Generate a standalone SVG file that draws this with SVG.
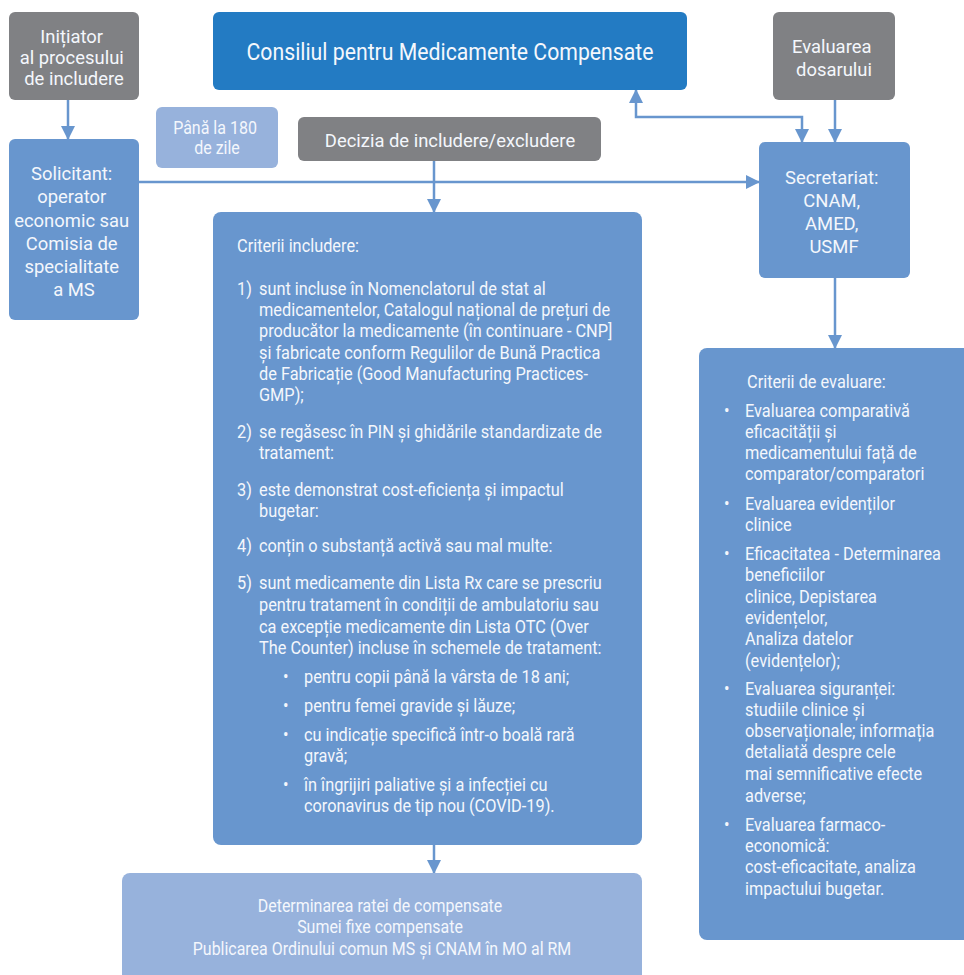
<svg xmlns="http://www.w3.org/2000/svg" width="964" height="975" viewBox="0 0 964 975">
  <style>
    .gray { fill: #808184; }
    .blue { fill: #6896ce; }
    .dark { fill: #237bc3; }
    .light { fill: #97b2dc; }
    text { font-family: Roboto, "Liberation Sans", sans-serif; fill: #f4f7fc; }
    .c { text-anchor: middle; }
    .body { font-size: 19px; }
    .small { font-size: 18px; }
    .box { font-size: 19px; }
    .title { font-size: 24.7px; }
    .conn { fill: none; stroke: #6896ce; stroke-width: 2.5; }
  </style>
  <defs>
    <marker id="arrow" markerUnits="userSpaceOnUse" markerWidth="14" markerHeight="14" viewBox="0 0 14 14" refX="13" refY="7" orient="auto-start-reverse">
      <path d="M0,0 L14,7 L0,14 Z" fill="#6896ce"/>
    </marker>
  </defs>

  <!-- connectors -->
  <g id="connectors">
    <path class="conn" d="M68,100 V139" marker-end="url(#arrow)"/>
    <path class="conn" d="M139,182 H759" marker-end="url(#arrow)"/>
    <path class="conn" d="M434,161 V212" marker-end="url(#arrow)"/>
    <path class="conn" d="M636,90 V117 H802 V142" marker-start="url(#arrow)" marker-end="url(#arrow)"/>
    <path class="conn" d="M835,100 V142" marker-end="url(#arrow)"/>
    <path class="conn" d="M835,278 V348" marker-end="url(#arrow)"/>
    <path class="conn" d="M434,845 V873" marker-end="url(#arrow)"/>
  </g>

  <g id="initiator">
    <rect class="gray" x="9" y="12" width="130" height="88" rx="6"/>
    <text class="c box" transform="translate(74,0) scale(0.97,1)">
      <tspan x="0" y="43">Inițiator</tspan>
      <tspan x="0" y="64">al procesului</tspan>
      <tspan x="0" y="85">de includere</tspan>
    </text>
  </g>

  <g id="solicitant">
    <rect class="blue" x="9" y="139" width="130" height="181" rx="6"/>
    <text class="c box" transform="translate(74,0) scale(0.97,1)">
      <tspan x="0" y="180">Solicitant:</tspan>
      <tspan x="0" y="203">operator</tspan>
      <tspan x="0" y="227">economic sau</tspan>
      <tspan x="0" y="250">Comisia de</tspan>
      <tspan x="0" y="273">specialitate</tspan>
      <tspan x="0" y="296">a MS</tspan>
    </text>
  </g>

  <g id="termen">
    <rect class="light" x="156" y="107" width="122" height="61" rx="6"/>
    <text class="c small" transform="translate(217,0) scale(0.89,1)">
      <tspan x="0" y="134">Până la 180</tspan>
      <tspan x="0" y="154">de zile</tspan>
    </text>
  </g>

  <g id="consiliul">
    <rect class="dark" x="213" y="12" width="474" height="78" rx="6"/>
    <text class="c title" transform="translate(450,0) scale(0.86,1)" y="60">Consiliul pentru Medicamente Compensate</text>
  </g>

  <g id="decizia">
    <rect class="gray" x="298" y="117" width="303" height="44" rx="6"/>
    <text class="c box" transform="translate(450,0) scale(0.97,1)" y="147">Decizia de includere/excludere</text>
  </g>

  <g id="evaluarea">
    <rect class="gray" x="773" y="12" width="122" height="88" rx="6"/>
    <text class="c box" transform="translate(834,0) scale(0.97,1)">
      <tspan x="0" y="53">Evaluarea</tspan>
      <tspan x="0" y="76">dosarului</tspan>
    </text>
  </g>

  <g id="secretariat">
    <rect class="blue" x="759" y="142" width="151" height="136" rx="6"/>
    <text class="c box" transform="translate(834,0) scale(0.97,1)">
      <tspan x="0" y="184">Secretariat:</tspan>
      <tspan x="0" y="207">CNAM,</tspan>
      <tspan x="0" y="230">AMED,</tspan>
      <tspan x="0" y="253">USMF</tspan>
    </text>
  </g>

  <g id="criterii-includere">
    <rect class="blue" x="213" y="212" width="429" height="633" rx="8"/>
    <g class="body">
      <text transform="translate(237,0) scale(0.86,1)">
        <tspan x="0" y="252">Criterii includere:</tspan>
        <tspan x="0" y="295">1)</tspan>
        <tspan x="0" y="438">2)</tspan>
        <tspan x="0" y="496">3)</tspan>
        <tspan x="0" y="552">4)</tspan>
        <tspan x="0" y="589">5)</tspan>
      </text>
      <text transform="translate(259,0) scale(0.86,1)">
        <tspan x="0" y="295">sunt incluse în Nomenclatorul de stat al</tspan>
        <tspan x="0" y="316">medicamentelor, Catalogul național de prețuri de</tspan>
        <tspan x="0" y="337">producător la medicamente (în continuare - CNP]</tspan>
        <tspan x="0" y="359">și fabricate conform Regulilor de Bună Practica</tspan>
        <tspan x="0" y="380">de Fabricație (Good Manufacturing Practices-</tspan>
        <tspan x="0" y="401">GMP);</tspan>
        <tspan x="0" y="438">se regăsesc în PIN și ghidările standardizate de</tspan>
        <tspan x="0" y="459">tratament:</tspan>
        <tspan x="0" y="496">este demonstrat cost-eficiența și impactul</tspan>
        <tspan x="0" y="517">bugetar:</tspan>
        <tspan x="0" y="552">conțin o substanță activă sau mal multe:</tspan>
        <tspan x="0" y="589">sunt medicamente din Lista Rx care se prescriu</tspan>
        <tspan x="0" y="611">pentru tratament în condiții de ambulatoriu sau</tspan>
        <tspan x="0" y="633">ca excepție medicamente din Lista OTC (Over</tspan>
        <tspan x="0" y="654">The Counter) incluse în schemele de tratament:</tspan>
      </text>
      <text transform="translate(283,0) scale(0.86,1)">
        <tspan x="0" y="683">•</tspan>
        <tspan x="0" y="712">•</tspan>
        <tspan x="0" y="741">•</tspan>
        <tspan x="0" y="791">•</tspan>
      </text>
      <text transform="translate(304,0) scale(0.86,1)">
        <tspan x="0" y="683">pentru copii până la vârsta de 18 ani;</tspan>
        <tspan x="0" y="712">pentru femei gravide și lăuze;</tspan>
        <tspan x="0" y="741">cu indicație specifică într-o boală rară</tspan>
        <tspan x="0" y="762">gravă;</tspan>
        <tspan x="0" y="791">în îngrijiri paliative și a infecției cu</tspan>
        <tspan x="0" y="812">coronavirus de tip nou (COVID-19).</tspan>
      </text>
    </g>
  </g>

  <g id="criterii-evaluare">
    <rect class="blue" x="699" y="348" width="290" height="592" rx="8"/>
    <g class="body">
      <text transform="translate(747,0) scale(0.86,1)" y="388">Criterii de evaluare:</text>
      <text transform="translate(724,0) scale(0.86,1)">
        <tspan x="0" y="417">•</tspan>
        <tspan x="0" y="510">•</tspan>
        <tspan x="0" y="560">•</tspan>
        <tspan x="0" y="695">•</tspan>
        <tspan x="0" y="831">•</tspan>
      </text>
      <text transform="translate(745,0) scale(0.86,1)">
        <tspan x="0" y="417">Evaluarea comparativă</tspan>
        <tspan x="0" y="438">eficacității și</tspan>
        <tspan x="0" y="459">medicamentului față de</tspan>
        <tspan x="0" y="480">comparator/comparatori</tspan>
        <tspan x="0" y="510">Evaluarea evidenților</tspan>
        <tspan x="0" y="531">clinice</tspan>
        <tspan x="0" y="560">Eficacitatea - Determinarea</tspan>
        <tspan x="0" y="581">beneficiilor</tspan>
        <tspan x="0" y="603">clinice, Depistarea</tspan>
        <tspan x="0" y="624">evidențelor,</tspan>
        <tspan x="0" y="645">Analiza datelor</tspan>
        <tspan x="0" y="667">(evidențelor);</tspan>
        <tspan x="0" y="695">Evaluarea siguranței:</tspan>
        <tspan x="0" y="716">studiile clinice și</tspan>
        <tspan x="0" y="737">observaționale; informația</tspan>
        <tspan x="0" y="758">detaliată despre cele</tspan>
        <tspan x="0" y="780">mai semnificative efecte</tspan>
        <tspan x="0" y="802">adverse;</tspan>
        <tspan x="0" y="831">Evaluarea farmaco-</tspan>
        <tspan x="0" y="852">economică:</tspan>
        <tspan x="0" y="873">cost-eficacitate, analiza</tspan>
        <tspan x="0" y="895">impactului bugetar.</tspan>
      </text>
    </g>
  </g>

  <g id="determinarea">
    <rect class="light" x="122" y="873" width="520" height="120" rx="8"/>
    <text class="c small" transform="translate(382,0) scale(0.886,1)">
      <tspan x="0" y="912">Determinarea ratei de compensate</tspan>
      <tspan x="0" y="933">Sumei fixe compensate</tspan>
      <tspan x="0" y="955">Publicarea Ordinului comun MS și CNAM în MO al RM</tspan>
    </text>
  </g>
</svg>
